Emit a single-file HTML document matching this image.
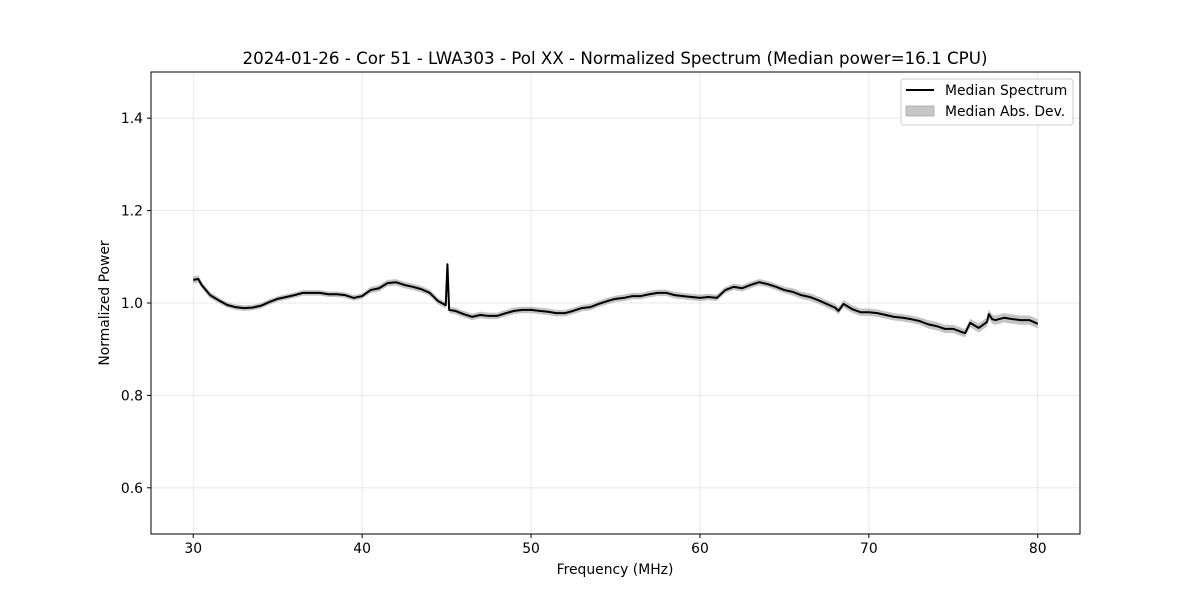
<!DOCTYPE html>
<html><head><meta charset="utf-8"><style>
body{margin:0;background:#fff;font-family:"DejaVu Sans","Liberation Sans",sans-serif;}
svg text{font-family:"DejaVu Sans","Liberation Sans",sans-serif;fill:#000;}
</style></head><body>
<svg id="chart" width="1200" height="600" viewBox="0 0 1200 600" xmlns="http://www.w3.org/2000/svg">
<rect width="1200" height="600" fill="#fff"/>
<g id="grid"></g>
<g id="series"></g>
<rect x="151" y="72" width="929" height="462" fill="none" stroke="#000" stroke-width="1"/>
<g id="ticks"></g>
<text x="615" y="64" font-size="16.7" text-anchor="middle">2024-01-26 - Cor 51 - LWA303 - Pol XX - Normalized Spectrum (Median power=16.1 CPU)</text>
<text x="615" y="574" font-size="13.9" text-anchor="middle">Frequency (MHz)</text>
<text x="109" y="303" font-size="13.9" text-anchor="middle" transform="rotate(-90 109 303)">Normalized Power</text>
<g>
<rect x="901" y="79" width="172" height="46" rx="3" fill="#fff" fill-opacity="0.8" stroke="#ccc"/>
<line x1="906" y1="90" x2="934" y2="90" stroke="#000" stroke-width="2"/>
<text x="945" y="95" font-size="13.9">Median Spectrum</text>
<rect x="906" y="106" width="28" height="10" fill="#c6c6c6" stroke="#aaa" stroke-width="0.8"/>
<text x="945" y="116" font-size="13.9">Median Abs. Dev.</text>
</g>
</svg>
<script>
const freqs=[30,30.3,30.5,31,31.5,32,32.5,33,33.5,34,34.5,35,35.5,36,36.5,37,37.5,38,38.5,39,39.5,40,40.5,41,41.5,42,42.5,43,43.5,44,44.5,44.95,45.05,45.15,45.5,46,46.5,47,47.5,48,48.5,49,49.5,50,50.5,51,51.5,52,52.5,53,53.5,54,54.5,55,55.5,56,56.5,57,57.5,58,58.5,59,59.5,60,60.5,61,61.5,62,62.5,63,63.5,64,64.5,65,65.5,66,66.5,67,67.5,68,68.2,68.5,69,69.5,70,70.5,71,71.5,72,72.5,73,73.5,74,74.5,75,75.5,75.7,76,76.5,77,77.1,77.3,77.5,78,78.5,79,79.5,80];
const median=[1.050,1.052,1.039,1.017,1.006,0.996,0.991,0.989,0.990,0.994,1.002,1.009,1.013,1.017,1.022,1.022,1.022,1.019,1.019,1.017,1.011,1.015,1.028,1.032,1.043,1.045,1.039,1.035,1.030,1.022,1.004,0.995,1.084,0.985,0.983,0.976,0.970,0.974,0.972,0.972,0.978,0.983,0.985,0.985,0.983,0.981,0.978,0.978,0.983,0.989,0.991,0.998,1.004,1.009,1.011,1.015,1.015,1.019,1.022,1.022,1.017,1.015,1.013,1.011,1.013,1.011,1.028,1.035,1.032,1.039,1.045,1.041,1.035,1.028,1.024,1.017,1.013,1.006,0.998,0.990,0.983,0.998,0.987,0.980,0.980,0.978,0.974,0.970,0.968,0.965,0.961,0.954,0.950,0.944,0.944,0.937,0.935,0.957,0.946,0.959,0.976,0.965,0.963,0.968,0.965,0.963,0.963,0.955];
const mad=[0.008,0.008,0.007,0.007,0.006,0.006,0.006,0.006,0.006,0.006,0.006,0.006,0.006,0.006,0.006,0.006,0.006,0.006,0.006,0.006,0.006,0.006,0.007,0.007,0.007,0.007,0.007,0.007,0.007,0.007,0.007,0.007,0.004,0.007,0.007,0.007,0.007,0.007,0.007,0.007,0.007,0.007,0.007,0.007,0.007,0.007,0.007,0.007,0.007,0.007,0.007,0.007,0.007,0.007,0.007,0.007,0.007,0.007,0.007,0.007,0.007,0.007,0.007,0.007,0.007,0.007,0.007,0.007,0.007,0.007,0.007,0.007,0.007,0.007,0.008,0.008,0.008,0.008,0.008,0.008,0.008,0.008,0.008,0.008,0.008,0.008,0.008,0.008,0.008,0.008,0.008,0.009,0.009,0.009,0.009,0.009,0.009,0.009,0.010,0.010,0.010,0.010,0.010,0.010,0.010,0.010,0.010,0.010];
const xTicks=[30,40,50,60,70,80];
const yTicks=[0.6,0.8,1.0,1.2,1.4];
const yTickLabels=["0.6","0.8","1.0","1.2","1.4"];
const NS="http://www.w3.org/2000/svg";
const X0=151,X1=1080,Y0=534,Y1=72,xmin=27.5,xmax=82.5,ymin=0.5,ymax=1.5;
function xs(v){return X0+(v-xmin)/(xmax-xmin)*(X1-X0);}
function ys(v){return Y0-(v-ymin)/(ymax-ymin)*(Y0-Y1);}
function mk(tag,attrs,parent){const e=document.createElementNS(NS,tag);for(const k in attrs)e.setAttribute(k,attrs[k]);parent.appendChild(e);return e;}
const grid=document.getElementById('grid'),ticks=document.getElementById('ticks'),series=document.getElementById('series');
xTicks.forEach(t=>{const x=xs(t);
 const g=mk('line',{x1:x,x2:x,y1:Y1,y2:Y0,stroke:'#b0b0b0','stroke-opacity':0.35,'stroke-width':0.8},grid);
 
 
 const tk=mk('line',{x1:x,x2:x,y1:Y0,y2:Y0+4,stroke:'#000'},ticks);
 
 
 const tx=mk('text',{x:x,y:Y0+19,'font-size':13.9,'text-anchor':'middle'},ticks);tx.textContent=t;
 
 
});
yTicks.forEach((t,i)=>{const y=ys(t);
 const g=mk('line',{x1:X0,x2:X1,y1:y,y2:y,stroke:'#b0b0b0','stroke-opacity':0.35,'stroke-width':0.8},grid);
 
 
 const tk=mk('line',{x1:X0-4,x2:X0,y1:y,y2:y,stroke:'#000'},ticks);
 
 
 const tx=mk('text',{x:X0-8,y:y+5,'font-size':13.9,'text-anchor':'end'},ticks);tx.textContent=yTickLabels[i];
 
 
});
let up=freqs.map((f,i)=>xs(f)+','+ys(median[i]+mad[i]));
let dn=freqs.map((f,i)=>xs(f)+','+ys(median[i]-mad[i])).reverse();
const band=mk('polygon',{points:up.concat(dn).join(' '),fill:'#b0b0b0','fill-opacity':0.75},series);


const line=mk('polyline',{points:freqs.map((f,i)=>xs(f)+','+ys(median[i])).join(' '),fill:'none',stroke:'#000','stroke-width':2,'stroke-linejoin':'round'},series);


</script>
</body></html>
